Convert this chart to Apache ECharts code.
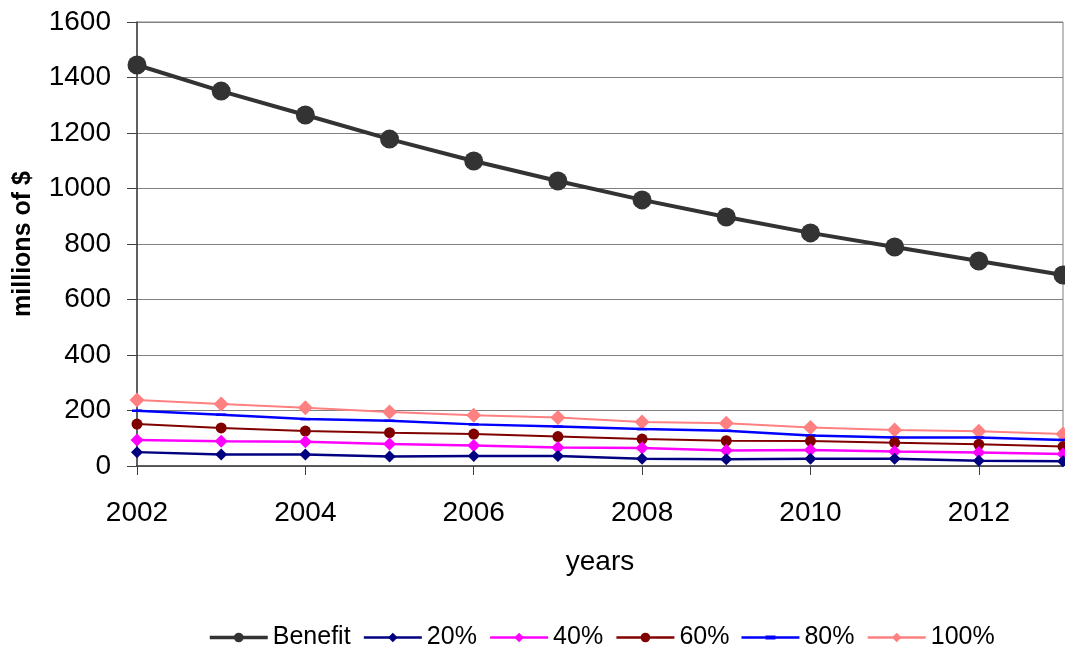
<!DOCTYPE html>
<html>
<head>
<meta charset="utf-8">
<script src="https://cdn.jsdelivr.net/npm/echarts@6/dist/echarts.min.js"></script>
<style>
  html, body { margin: 0; padding: 0; background: #fff; }
  #chart { width: 1065px; height: 646px; }
</style>
</head>
<body>
<div id="chart"></div>
<script>
// Yearly values, millions of $
const years = [2002, 2003, 2004, 2005, 2006, 2007, 2008, 2009, 2010, 2011, 2012, 2013];
const benefit = [1445, 1351, 1265, 1178, 1099, 1027, 959, 897, 840, 789, 739, 688];
const pct20  = [50, 41, 41, 34, 36, 36, 26, 24, 26, 26, 19, 17];
const pct40  = [94, 89, 87, 79, 74, 67, 65, 56, 58, 52, 49, 43];
const pct60  = [151, 137, 126, 120, 115, 106, 97, 91, 90, 84, 78, 70];
const pct80  = [199, 185, 169, 163, 150, 142, 133, 127, 110, 103, 103, 94];
const pct100 = [238, 223, 210, 195, 183, 175, 159, 154, 139, 130, 125, 115];

const FONT = '"Liberation Sans", Arial, sans-serif';
const pairs = vals => years.map((y, i) => [y, vals[i]]);

// flat dash marker
const DASH = 'path://M0,0 L10,0 L10,5 L0,5 Z';
// legend key: thin line with a dash in the middle
const DASH_KEY = 'path://M0,0.8 L24,0.8 L24,0 L34,0 L34,0.8 L58,0.8 L58,3.2 L34,3.2 L34,4 L24,4 L24,3.2 L0,3.2 Z';

function lineSeries(name, vals, color, symbol, size, width) {
  return {
    name, type: 'line', data: pairs(vals),
    symbol, symbolSize: size, symbolKeepAspect: true,
    lineStyle: { color, width },
    itemStyle: { color },
    emphasis: { disabled: true },
    animation: false
  };
}

const chart = echarts.init(document.getElementById('chart'));
chart.setOption({
  backgroundColor: '#ffffff',
  textStyle: { fontFamily: FONT },
  grid: {
    left: 137, right: 2, top: 22, bottom: 180,
    show: true, borderColor: '#808080', borderWidth: 1
  },
  xAxis: {
    type: 'value', min: 2002, max: 2013, interval: 2,
    name: 'years', nameLocation: 'middle', nameGap: 82,
    nameTextStyle: { fontSize: 28, color: '#000', fontFamily: FONT },
    axisLine: { show: true, lineStyle: { color: '#404040', width: 1.5 } },
    axisTick: { show: true, length: 9, lineStyle: { color: '#404040' } },
    axisLabel: {
      fontSize: 28, color: '#000', margin: 33, fontFamily: FONT,
      showMaxLabel: false,
      formatter: v => (v === 2013 ? '' : String(v))
    },
    splitLine: { show: false }
  },
  yAxis: {
    type: 'value', min: 0, max: 1600, interval: 200,
    name: 'millions of $', nameLocation: 'middle', nameGap: 101, nameRotate: 90,
    nameTextStyle: { fontSize: 25, fontWeight: 'bold', color: '#000', fontFamily: FONT },
    axisLine: { show: true, lineStyle: { color: '#404040', width: 1.5 } },
    axisTick: { show: true, length: 10, inside: false, lineStyle: { color: '#404040' } },
    axisLabel: {
      fontSize: 28, color: '#000', margin: 26, fontFamily: FONT,
      formatter: v => String(v)
    },
    splitLine: { show: true, lineStyle: { color: '#808080', width: 1 } }
  },
  legend: {
    left: 203, top: 620,
    itemWidth: 58, itemHeight: 12, itemGap: 12,
    textStyle: { fontSize: 25, color: '#000', fontFamily: FONT },
    data: [
      { name: 'Benefit', lineStyle: { width: 3.5 } },
      { name: '20%', lineStyle: { width: 2.5 } },
      { name: '40%', lineStyle: { width: 2.5 } },
      { name: '60%', lineStyle: { width: 2.5 } },
      { name: '80%', icon: DASH_KEY },
      { name: '100%', lineStyle: { width: 2.5 } }
    ]
  },
  series: [
    lineSeries('100%', pct100, '#FF8080', 'diamond', 15, 2),
    lineSeries('80%', pct80, '#0000FF', DASH, [10, 5], 2.5),
    lineSeries('60%', pct60, '#800000', 'circle', 11, 2),
    lineSeries('40%', pct40, '#FF00FF', 'diamond', 13, 2.5),
    lineSeries('20%', pct20, '#000080', 'diamond', 12, 2.5),
    lineSeries('Benefit', benefit, '#333333', 'circle', 19, 4)
  ]
});
</script>
</body>
</html>
